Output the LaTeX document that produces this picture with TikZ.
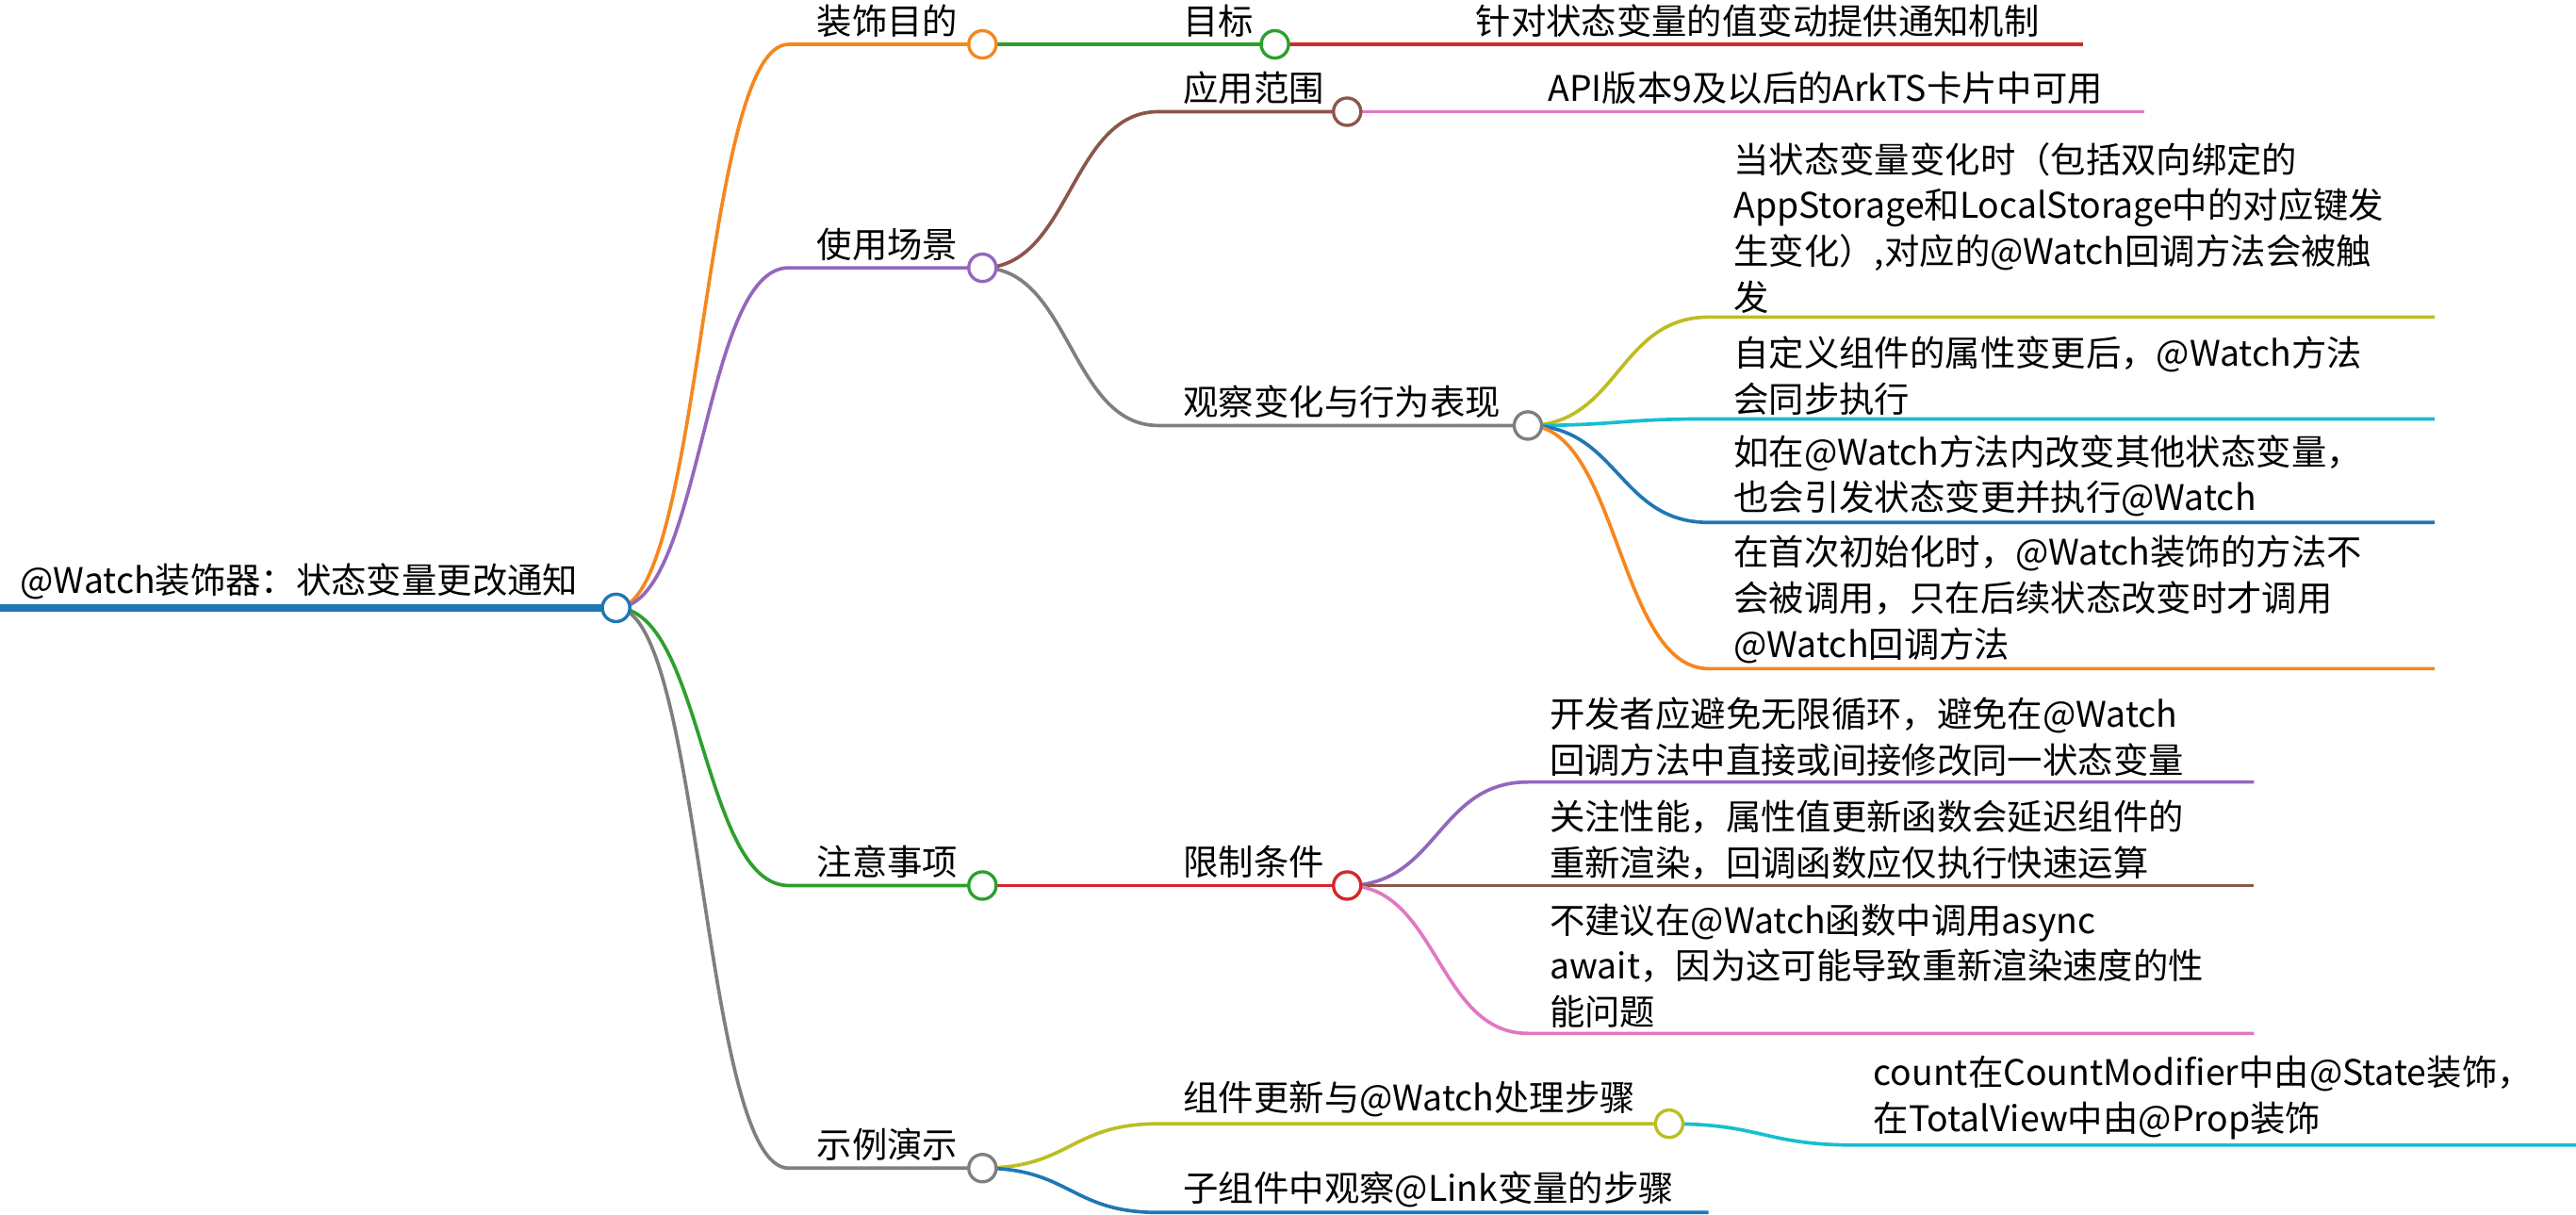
\documentclass[tikz,border=0pt]{standalone}
\usepackage{fontspec}
\setmainfont{Noto Sans CJK SC}
\definecolor{cor}{HTML}{F5871F}
\definecolor{cgr}{HTML}{2CA02C}
\definecolor{cpu}{HTML}{9467BD}
\definecolor{cgy}{HTML}{7F7F7F}
\definecolor{cre}{HTML}{D62728}
\definecolor{cbr}{HTML}{8C564B}
\definecolor{cpi}{HTML}{E377C2}
\definecolor{col}{HTML}{BCBD22}
\definecolor{ccy}{HTML}{17BECF}
\definecolor{cbl}{HTML}{1F77B4}
\tikzset{
 lnk/.style={line width=1.2pt},
 txt/.style={anchor=south west,inner sep=0pt,align=left,font=\fontsize{12.2}{15.9}\selectfont},
 dot/.style={circle,draw=#1,fill=white,line width=1.1pt,minimum size=9.5pt,inner sep=0pt}
}
\newcommand\branch[6]{\draw[lnk,#1] (#2,#3) .. controls ({(#2+#4)/2},#3) and ({(#2+#4)/2},#5) .. (#4,#5) -- (#6,#5);}
\begin{document}
\begin{tikzpicture}[x=0.02cm,y=-0.02cm]
\useasboundingbox (0,0) rectangle (1568,739);
% root
\draw[line width=2.5pt,cbl] (0,370) -- (375,370);
\node[txt] (root) at (12,365) {@Watch装饰器：状态变量更改通知};
% level 1
\branch{cor}{375}{370}{480}{27}{598}
\branch{cpu}{375}{370}{480}{163}{598}
\branch{cgr}{375}{370}{480}{539}{598}
\branch{cgy}{375}{370}{480}{711}{598}
\node[txt] (a) at (497,23) {装饰目的};
\node[txt] (b) at (497,159) {使用场景};
\node[txt] (c) at (497,535) {注意事项};
\node[txt] (d) at (497,707) {示例演示};
% 装饰目的
\draw[lnk,cgr] (598,27) -- (776,27);
\node[txt] (a1) at (720,23) {目标};
\draw[lnk,cre] (776,27) -- (1268,27);
\node[txt] (a11) at (898,23) {针对状态变量的值变动提供通知机制};
% 使用场景
\branch{cbr}{598}{163}{705}{68}{820}
\node[txt] (b1) at (720,64) {应用范围};
\draw[lnk,cpi] (820,68) -- (1305,68);
\node[txt] (b11) at (942,64) {API版本9及以后的ArkTS卡片中可用};
\branch{cgy}{598}{163}{705}{259}{930}
\node[txt] (b2) at (720,255) {观察变化与行为表现};
\branch{col}{930}{259}{1040}{193}{1482}
\branch{ccy}{930}{259}{1040}{255}{1482}
\branch{cbl}{930}{259}{1040}{318}{1482}
\branch{cor}{930}{259}{1040}{407}{1482}
\node[txt] (b21) at (1055,191) {当状态变量变化时（包括双向绑定的\\AppStorage和LocalStorage中的对应键发\\生变化）,对应的@Watch回调方法会被触\\发};
\node[txt] (b22) at (1055,253) {自定义组件的属性变更后，@Watch方法\\会同步执行};
\node[txt] (b23) at (1055,315) {如在@Watch方法内改变其他状态变量，\\也会引发状态变更并执行@Watch};
\node[txt] (b24) at (1055,404) {在首次初始化时，@Watch装饰的方法不\\会被调用，只在后续状态改变时才调用\\@Watch回调方法};
% 注意事项
\draw[lnk,cre] (598,539) -- (820,539);
\node[txt] (c1) at (720,535) {限制条件};
\branch{cpu}{820}{539}{930}{476}{1372}
\branch{cbr}{820}{539}{930}{539}{1372}
\branch{cpi}{820}{539}{930}{629}{1372}
\node[txt] (c11) at (943,473) {开发者应避免无限循环，避免在@Watch\\回调方法中直接或间接修改同一状态变量};
\node[txt] (c12) at (943,536) {关注性能，属性值更新函数会延迟组件的\\重新渲染，回调函数应仅执行快速运算};
\node[txt] (c13) at (943,626) {不建议在@Watch函数中调用async\\await，因为这可能导致重新渲染速度的性\\能问题};
% 示例演示
\branch{col}{598}{711}{705}{684}{1016}
\node[txt] (d1) at (720,680) {组件更新与@Watch处理步骤};
\branch{ccy}{1016}{684}{1130}{697}{1568}
\node[txt] (d11) at (1140,694) {count在CountModifier中由@State装饰，\\在TotalView中由@Prop装饰};
\branch{cbl}{598}{711}{705}{738}{1040}
\node[txt] (d2) at (720,735) {子组件中观察@Link变量的步骤};
% dots
\node[dot=cbl] (r0) at (375,370) {};
\node[dot=cor] at (598,27) {};
\node[dot=cpu] at (598,163) {};
\node[dot=cgr] at (598,539) {};
\node[dot=cgy] at (598,711) {};
\node[dot=cgr] at (776,27) {};
\node[dot=cbr] at (820,68) {};
\node[dot=cgy] at (930,259) {};
\node[dot=cre] at (820,539) {};
\node[dot=col] at (1016,684) {};
\end{tikzpicture}
\end{document}
